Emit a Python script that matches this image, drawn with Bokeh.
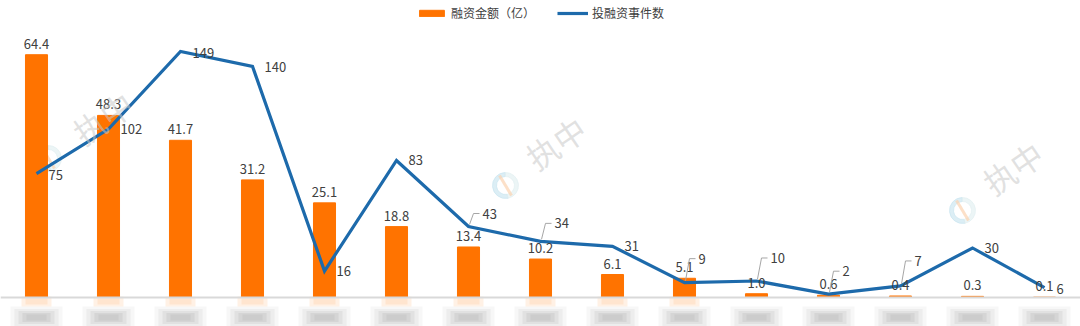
from bokeh.plotting import figure
from bokeh.models import Range1d, Legend, LegendItem, Span, Label, ColumnDataSource
from bokeh.embed import file_html
from bokeh.resources import INLINE
from bokeh.core.properties import value

# ---- data ----
amounts = [64.4, 48.3, 41.7, 31.2, 25.1, 18.8, 13.4, 10.2, 6.1, 5.1, 1.0, 0.6, 0.4, 0.3, 0.1]
events = [75, 102, 149, 140, 16, 83, 43, 34, 31, 9, 10, 2, 7, 30, 6]
series_names = ["融资金额（亿）", "投融资事件数"]
watermark_text = "执中"

# ---- style ----
ORANGE = "#FF7300"
BLUE = "#1D6AAB"
TXT = "#404040"
FONT = "Noto Sans CJK SC"
W, H = 1080, 326
AXIS_PX = 297           # pixel row of the baseline
BAR_PX = 3.77           # px per amount unit
EVT_PX = 1.651          # px per event unit
X_PX = W / 15.0

idx = list(range(len(amounts)))
bar_range = Range1d(-(H - AXIS_PX) / BAR_PX, AXIS_PX / BAR_PX)
evt_range = Range1d(-(H - AXIS_PX) / EVT_PX, AXIS_PX / EVT_PX)

p = figure(width=W, height=H, x_range=Range1d(-0.5, 14.5), y_range=bar_range,
           output_backend="svg", toolbar_location=None, min_border=0,
           x_axis_location=None, y_axis_location=None, outline_line_color=None)
p.extra_y_ranges = {"evt": evt_range}
p.xgrid.visible = False
p.ygrid.visible = False
p.background_fill_color = "white"


def sx2x(sx):
    return (sx - X_PX / 2) / X_PX


def sy2y(sy):
    return (AXIS_PX - sy) / BAR_PX


# watermarks (text + faint ring logo)
wm_text_pos = [(102, 117), (555, 142), (1012, 167)]
wm_logo_pos = [(48, 158), (505, 185), (962, 210)]
for sx, sy in wm_text_pos:
    p.add_layout(Label(x=sx, y=H - sy, x_units="screen", y_units="screen", text=watermark_text,
                       text_font=FONT, text_font_size="32px", text_color="#c8c8c8",
                       text_alpha=0.55, angle=0.6, text_align="center",
                       text_baseline="middle"))
logo = ColumnDataSource(dict(x=[sx2x(a) for a, b in wm_logo_pos],
                             y=[sy2y(b) for a, b in wm_logo_pos]))
p.annular_wedge(x="x", y="y", source=logo, inner_radius=9, outer_radius=13,
                inner_radius_units="screen", outer_radius_units="screen",
                start_angle=1.6, end_angle=4.9, color="#c5e3ef", alpha=0.6)
p.annular_wedge(x="x", y="y", source=logo, inner_radius=9, outer_radius=13,
                inner_radius_units="screen", outer_radius_units="screen",
                start_angle=4.9, end_angle=1.6 + 6.283, color="#dfeef0", alpha=0.6)
p.segment(x0=[sx2x(a - 6) for a, b in wm_logo_pos], y0=[sy2y(b - 10) for a, b in wm_logo_pos],
          x1=[sx2x(a + 6) for a, b in wm_logo_pos], y1=[sy2y(b + 10) for a, b in wm_logo_pos],
          line_color="#fbd3b0", line_width=3, line_alpha=0.7)

# blurred category labels (unreadable in the reference)
blob_y = [sy2y(317)] * len(idx)
for bw, bh, ba in [(52, 22, 0.10), (44, 17, 0.15), (36, 13, 0.2), (28, 9, 0.25), (20, 6, 0.25)]:
    p.rect(x=idx, y=blob_y, width=bw, height=bh, width_units="screen", height_units="screen",
           fill_color="#b4b4b4", fill_alpha=ba, line_color=None)
# faint orange glow just under the bars
glow_alpha = [0.18 if a > 2 else 0.0 for a in amounts]
for gw, gh in [(30, 10), (22, 6)]:
    p.rect(x=idx, y=[sy2y(301)] * len(idx), width=gw, height=gh, width_units="screen",
           height_units="screen", fill_color="#FFB070", fill_alpha=glow_alpha, line_color=None)

# baseline
p.add_layout(Span(location=0, dimension="width", line_color="#d9d9d9", line_width=2))

bars = p.vbar(x=idx, top=amounts, width=0.306, color=ORANGE)
line = p.line(idx, events, y_range_name="evt", line_color=BLUE, line_width=3.2,
              line_join="miter")

# bar labels
p.text(x=idx, y=amounts, text=[f"{v:.1f}" for v in amounts], text_font=value(FONT),
       text_font_size="13px", text_color=TXT, text_align="center",
       text_baseline="alphabetic", y_offset=-11)

# event labels
lift = [-1, 0, -1, -1, 0, 0, 13, 18, 0, 24, 23, 23, 25, 0, -1]
leader = [False] * 6 + [True, True, False, True, True, True, True, False, False]
for i, v in enumerate(events):
    p.text(x=[i], y=[v], text=[str(v)], y_range_name="evt", text_font=value(FONT),
           text_font_size="13px", text_color=TXT, text_align="left",
           text_baseline="middle", x_offset=14 if leader[i] else 12, y_offset=-lift[i])
xs, ys = [], []
for i, v in enumerate(events):
    if leader[i]:
        xs.append([i + 1 / X_PX, i + 5 / X_PX, i + 11 / X_PX])
        ys.append([v + 2 / EVT_PX, v + lift[i] / EVT_PX, v + lift[i] / EVT_PX])
p.multi_line(xs=xs, ys=ys, y_range_name="evt", line_color="#a6a6a6", line_width=1)

legend = Legend(items=[LegendItem(label=series_names[0], renderers=[bars]),
                       LegendItem(label=series_names[1], renderers=[line])],
                location="top_center", orientation="horizontal",
                label_text_font=FONT, label_text_font_size="12px", label_text_color=TXT,
                glyph_width=31, glyph_height=8, label_height=16, label_standoff=4,
                spacing=22, padding=0, margin=4, border_line_color=None,
                background_fill_alpha=0)
p.add_layout(legend)

open("out.html", "w").write(file_html(p, INLINE))
